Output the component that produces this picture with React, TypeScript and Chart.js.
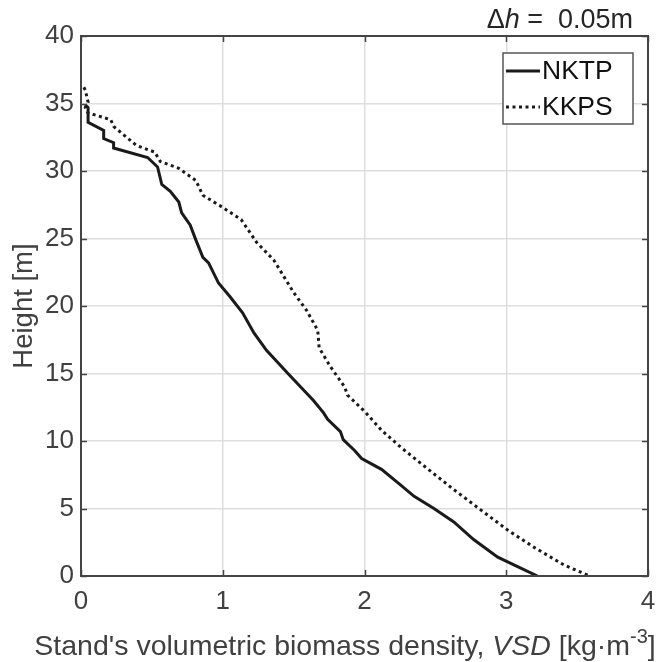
import React, { useEffect, useRef } from "react";
import { Chart, registerables } from "chart.js";

Chart.register(...registerables);

const nktpVSD = [0.03, 0.05, 0.05, 0.16, 0.16, 0.23, 0.23, 0.47, 0.54, 0.57, 0.63, 0.69, 0.71, 0.77, 0.81, 0.86, 0.9, 0.97, 1.05, 1.14, 1.22, 1.31, 1.46, 1.55, 1.64, 1.71, 1.74, 1.83, 1.85, 1.93, 1.98, 2.12, 2.26, 2.35, 2.49, 2.63, 2.77, 2.94, 3.08, 3.22];
const nktpHeight = [34.9, 34.7, 33.6, 33.0, 32.4, 32.1, 31.7, 31.0, 30.3, 29.0, 28.5, 27.7, 26.9, 26.0, 24.9, 23.6, 23.2, 21.7, 20.7, 19.5, 18.0, 16.7, 15.0, 14.0, 13.0, 12.1, 11.6, 10.7, 10.1, 9.3, 8.7, 7.9, 6.7, 5.9, 5.0, 4.0, 2.7, 1.4, 0.7, 0.0];

const kkpsVSD = [0.02, 0.03, 0.05, 0.03, 0.05, 0.21, 0.23, 0.39, 0.52, 0.56, 0.69, 0.81, 0.86, 1.0, 1.13, 1.24, 1.36, 1.5, 1.59, 1.67, 1.68, 1.76, 1.86, 1.88, 2.0, 2.12, 2.26, 2.45, 2.63, 2.82, 3.01, 3.2, 3.41, 3.59];
const kkpsHeight = [36.2, 36.0, 35.1, 34.7, 34.3, 33.8, 33.3, 31.9, 31.4, 30.7, 30.2, 29.3, 28.2, 27.3, 26.4, 24.7, 23.4, 21.0, 19.7, 18.2, 16.9, 15.5, 14.0, 13.4, 12.2, 10.8, 9.5, 7.9, 6.4, 4.9, 3.4, 2.1, 0.8, 0.0];

const seriesNames = ["NKTP", "KKPS"];
const xTitleParts = [
  { t: "Stand's volumetric biomass density, ", s: "normal" },
  { t: "VSD", s: "italic" },
  { t: " [kg·m", s: "normal" },
  { t: "-3", s: "sup" },
  { t: "]", s: "normal" },
];
const topTitleParts = [
  { t: "Δ", s: "normal" },
  { t: "h", s: "italic" },
  { t: " =  0.05m", s: "normal" },
];
const yTitle = "Height [m]";

const FONT = "'Liberation Sans', Arial, sans-serif";
const AXIS = "#444444";
const TXT = "#404040";
const LINE = "#1a1a1a";

function fontFor(s: string, size: number) {
  if (s === "italic") return `italic ${size}px ${FONT}`;
  if (s === "sup") return `${Math.round(size * 0.7)}px ${FONT}`;
  return `${size}px ${FONT}`;
}

function drawParts(ctx: CanvasRenderingContext2D, parts: { t: string; s: string }[], x: number, y: number, size: number, align: "center" | "right") {
  let total = 0;
  const widths = parts.map((p) => {
    ctx.font = fontFor(p.s, size);
    const w = ctx.measureText(p.t).width;
    total += w;
    return w;
  });
  let cx = align === "center" ? x - total / 2 : x - total;
  parts.forEach((p, i) => {
    ctx.font = fontFor(p.s, size);
    ctx.textAlign = "left";
    ctx.textBaseline = "alphabetic";
    ctx.fillText(p.t, cx, p.s === "sup" ? y - size * 0.42 : y);
    cx += widths[i];
  });
}

const decorPlugin = {
  id: "decor",
  afterDraw(chart: any) {
    const { ctx, chartArea: a, scales } = chart;
    const xs = scales.x;
    const ys = scales.y;
    ctx.save();
    ctx.strokeStyle = AXIS;
    ctx.lineWidth = 2;
    ctx.strokeRect(a.left, a.top, a.right - a.left, a.bottom - a.top);
    const tl = 6;
    ctx.beginPath();
    xs.ticks.forEach((t: any) => {
      const px = Math.round(xs.getPixelForValue(t.value)) + 0.5;
      ctx.moveTo(px, a.bottom);
      ctx.lineTo(px, a.bottom - tl);
      ctx.moveTo(px, a.top);
      ctx.lineTo(px, a.top + tl);
    });
    ys.ticks.forEach((t: any) => {
      const py = Math.round(ys.getPixelForValue(t.value)) + 0.5;
      ctx.moveTo(a.left, py);
      ctx.lineTo(a.left + tl, py);
      ctx.moveTo(a.right, py);
      ctx.lineTo(a.right - tl, py);
    });
    ctx.lineWidth = 1.5;
    ctx.stroke();

    // legend
    const lx = 503, ly = 53, lw = 130, lh = 71;
    ctx.fillStyle = "#ffffff";
    ctx.fillRect(lx, ly, lw, lh);
    ctx.strokeStyle = "#555555";
    ctx.lineWidth = 1.5;
    ctx.strokeRect(lx, ly, lw, lh);
    const rows = [
      { name: seriesNames[0], dash: [] as number[], y: ly + 18 },
      { name: seriesNames[1], dash: [3, 3.5], y: ly + 54 },
    ];
    rows.forEach((r) => {
      ctx.beginPath();
      ctx.setLineDash(r.dash);
      ctx.strokeStyle = LINE;
      ctx.lineWidth = 3;
      ctx.moveTo(lx + 3, r.y);
      ctx.lineTo(lx + 37, r.y);
      ctx.stroke();
      ctx.setLineDash([]);
      ctx.fillStyle = "#111111";
      ctx.font = `26.5px ${FONT}`;
      ctx.textAlign = "left";
      ctx.textBaseline = "middle";
      ctx.fillText(r.name, lx + 39, r.y + 1);
    });

    // titles
    ctx.fillStyle = "#262626";
    drawParts(ctx, topTitleParts, 633, 28, 27, "right");
    ctx.fillStyle = TXT;
    drawParts(ctx, xTitleParts, 345, 655, 28.5, "center");
    ctx.save();
    ctx.translate(32, (a.top + a.bottom) / 2);
    ctx.rotate(-Math.PI / 2);
    ctx.font = `27.5px ${FONT}`;
    ctx.textAlign = "center";
    ctx.textBaseline = "alphabetic";
    ctx.fillText(yTitle, 0, 0);
    ctx.restore();
    ctx.restore();
  },
};

export default function App() {
  const ref = useRef<HTMLCanvasElement | null>(null);
  useEffect(() => {
    document.body.style.margin = "0";
    if (!ref.current) return;
    const toPts = (xs: number[], ys: number[]) => xs.map((v, i) => ({ x: v, y: ys[i] }));
    const chart = new Chart(ref.current, {
      type: "line",
      data: {
        datasets: [
          {
            label: seriesNames[0],
            data: toPts(nktpVSD, nktpHeight),
            borderColor: LINE,
            borderWidth: 3,
            pointRadius: 0,
            tension: 0,
          },
          {
            label: seriesNames[1],
            data: toPts(kkpsVSD, kkpsHeight),
            borderColor: LINE,
            borderWidth: 3,
            borderDash: [3, 3.5],
            pointRadius: 0,
            tension: 0,
          },
        ],
      },
      options: {
        animation: false,
        responsive: false,
        devicePixelRatio: 1,
        parsing: false as any,
        layout: { autoPadding: false, padding: { left: 0, top: 36, right: 9, bottom: 0 } } as any,
        plugins: { legend: { display: false }, tooltip: { enabled: false }, title: { display: false } },
        scales: {
          x: {
            type: "linear",
            min: 0,
            max: 4,
            ticks: { stepSize: 1, color: TXT, font: { size: 26, family: FONT }, padding: 10, maxRotation: 0 },
            grid: { color: "#dedede", lineWidth: 1.5, drawTicks: false },
            border: { display: false },
            afterFit: (s: any) => { s.height = 86; s.paddingLeft = 0; s.paddingRight = 0; },
          },
          y: {
            type: "linear",
            min: 0,
            max: 40,
            ticks: { stepSize: 5, color: TXT, font: { size: 26, family: FONT }, padding: 7 },
            grid: { color: "#dedede", lineWidth: 1.5, drawTicks: false },
            border: { display: false },
            afterFit: (s: any) => { s.width = 81; s.paddingTop = 0; s.paddingBottom = 0; },
          },
        },
      },
      plugins: [decorPlugin],
    });
    return () => chart.destroy();
  }, []);
  return (
    <div style={{ width: 657, height: 662 }}>
      <canvas ref={ref} width={657} height={662} style={{ display: "block" }} />
    </div>
  );
}
